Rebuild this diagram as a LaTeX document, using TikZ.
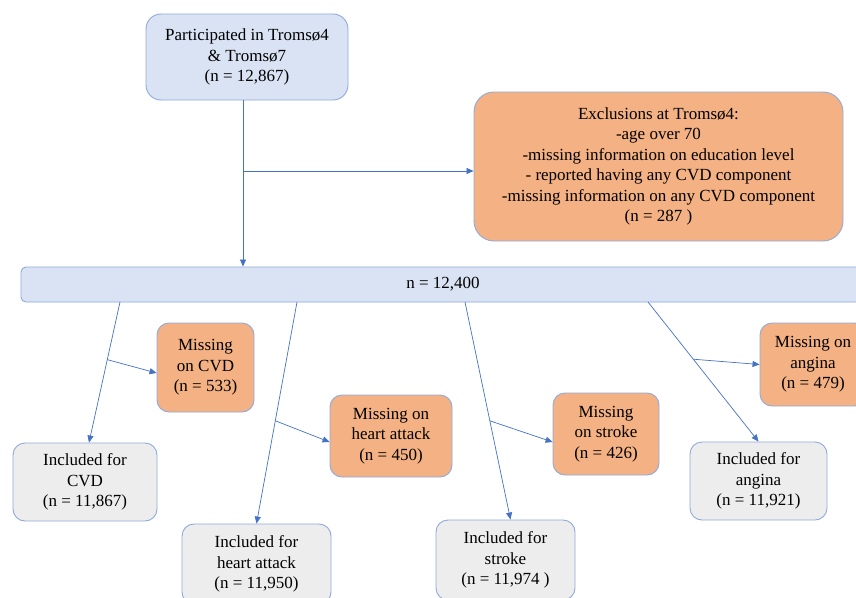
\documentclass[tikz,border=0pt]{standalone}
\usepackage{fontspec}
\setmainfont{Liberation Serif}
\usetikzlibrary{arrows.meta,calc}
\definecolor{bfill}{HTML}{DAE3F3}
\definecolor{bord}{HTML}{8FAADC}
\definecolor{ofill}{HTML}{F4B183}
\definecolor{gfill}{HTML}{EDEDED}
\definecolor{arr}{HTML}{4472C4}
\begin{document}
\begin{tikzpicture}[x=1pt,y=-1pt,
  box/.style={draw=bord, line width=0.9pt, align=center, inner sep=0pt,
    font=\fontsize{17}{20.5}\selectfont},
  bluebox/.style={box, fill=bfill},
  orbox/.style={box, fill=ofill, rounded corners=12pt},
  grbox/.style={box, fill=gfill, rounded corners=12pt},
  conn/.style={draw=arr, line width=0.7pt, -{Triangle[length=7pt,width=6pt]}},
  plain/.style={draw=arr, line width=0.7pt}]
\useasboundingbox (0,0) rectangle (856,597);
\clip (0,0) rectangle (856,597);
\fill[white] (0,0) rectangle (856,597);

\node[bluebox, rounded corners=15pt, minimum width=202pt, minimum height=86pt] (top) at (247,57)
  {Participated in Tromsø4\\ \& Tromsø7\\ (n = 12,867)};
\node[orbox, rounded corners=20pt, minimum width=369pt, minimum height=149pt] (excl) at (658.5,166.5)
  {Exclusions at Tromsø4:\\ -age over 70\\ -missing information on education level\\ - reported having any CVD component\\ -missing information on any CVD component\\ (n = 287 )};
\node[bluebox, rounded corners=5pt, minimum width=844pt, minimum height=35pt] (bar) at (443,284.5)
  {n = 12,400};

\node[orbox, minimum width=97pt, minimum height=89pt] (mcvd) at (205.5,367.5)
  {Missing\\ on CVD\\ (n = 533)};
\node[grbox, minimum width=144pt, minimum height=78pt] (icvd) at (85,482)
  {Included for\\ CVD\\ (n = 11,867)};
\node[orbox, minimum width=122pt, minimum height=82pt] (mha) at (391,436)
  {Missing on\\ heart attack\\ (n = 450)};
\node[grbox, minimum width=149pt, minimum height=80pt] (iha) at (256.5,564)
  {Included for\\ heart attack\\ (n = 11,950)};
\node[orbox, minimum width=106pt, minimum height=82pt] (mst) at (606,434)
  {Missing\\ on stroke\\ (n = 426)};
\node[grbox, minimum width=139pt, minimum height=80pt] (ist) at (505.5,560)
  {Included for\\ stroke\\ (n = 11,974 )};
\node[orbox, minimum width=106pt, minimum height=83pt] (man) at (813,364.5)
  {Missing on\\ angina\\ (n = 479)};
\node[grbox, minimum width=137pt, minimum height=78pt] (ian) at (758.5,481)
  {Included for\\ angina\\ (n = 11,921)};

% top connectors
\coordinate (t0) at (top.south -| 243,0);
\coordinate (tb) at (243,171);
\draw[conn] (t0) -- (t0 |- bar.north);
\draw[conn] (tb) -- (tb -| excl.west);

% branches from bar
\coordinate (s1) at (120,302);
\coordinate (s2) at (297,302);
\coordinate (s3) at (465,302);
\coordinate (s4) at (648,302);
\coordinate (e1) at ($(icvd.north)+(4,0)$);
\coordinate (e3) at ($(ist.north)+(5,0)$);
\draw[conn] (s1) -- (e1);
\draw[conn] (s2) -- (iha.north);
\draw[conn] (s3) -- (e3);
\draw[conn] (s4) -- (ian.north);

\coordinate (b1) at ($(s1)!0.41!(e1)$);
\coordinate (b2) at ($(s2)!0.536!(iha.north)$);
\coordinate (b3) at ($(s3)!0.546!(e3)$);
\coordinate (b4) at ($(s4)!0.41!(ian.north)$);
\draw[conn] (b1) -- ($(mcvd.west)+(0,5.5)$);
\draw[conn] (b2) -- ($(mha.west)+(0,6)$);
\draw[conn] (b3) -- ($(mst.west)+(0,8)$);
\draw[conn] (b4) -- (man.west);
\end{tikzpicture}
\end{document}
